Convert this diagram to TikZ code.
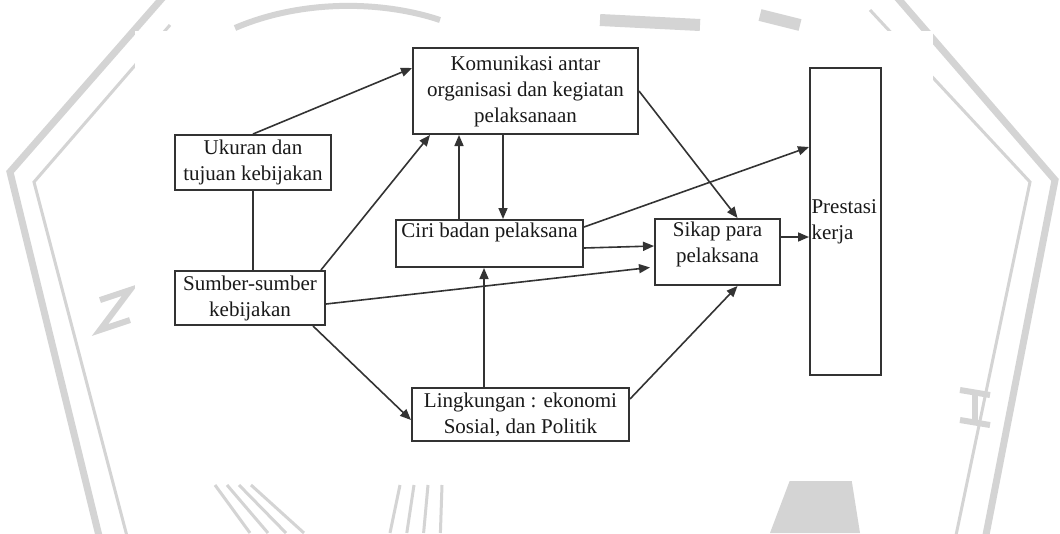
\documentclass[tikz,border=0pt]{standalone}
\usepackage{fontspec}
\setmainfont{Liberation Serif}
\usetikzlibrary{arrows.meta}
\definecolor{wm}{gray}{0.83}
\definecolor{ln}{gray}{0.2}
\tikzset{
  boxnode/.style={draw=ln, line width=2pt, rectangle, inner sep=2pt, align=center,
     font=\fontsize{21}{26}\selectfont, text=black!90},
  conn/.style={draw=ln, line width=1.6pt, -{Triangle[length=11pt,width=9pt]}},
  plain/.style={draw=ln, line width=1.6pt},
  wmline/.style={draw=wm, line width=7pt},
  wmthin/.style={draw=wm, line width=3pt}
}
\begin{document}
\begin{tikzpicture}[x=1pt,y=-1pt]
\useasboundingbox (0,0) rectangle (1060,533);
\fill[white] (0,0) rectangle (1060,533);
% watermark (faint)
\draw[wmline] (165,-5) -- (10,172) -- (100,540);
\draw[wmthin] (170,25) -- (34,182) -- (128,540);
\draw[wmline] (895,-5) -- (1055,180) -- (985,540);
\draw[wmthin] (870,10) -- (1030,182) -- (955,540);
\draw[wm, line width=6pt] (235,28) .. controls (300,0) and (380,0) .. (440,20);
\draw[wm, line width=12pt] (600,20) -- (700,25);
\draw[wm, line width=12pt] (760,15) -- (800,25);
\foreach \a in {0,12,24,36}{\draw[wmthin] (215+\a,485) -- (250+\a*1.5,533);}
\foreach \a in {0,14,28,42}{\draw[wmthin] (400+\a,485) -- (390+\a*1.2,533);}
\fill[wm] (790,480) -- (850,470) -- (860,533) -- (770,533) -- cycle;
\draw[wm, line width=6pt] (100,300) -- (130,290) -- (100,330) -- (130,320);
\draw[wm, line width=6pt] (960,390) -- (990,395);
\draw[wm, line width=6pt] (960,420) -- (990,425);
\draw[wm, line width=6pt] (975,392) -- (975,423);
% white paper
\fill[white] (135,31) rectangle (933,481);
% boxes
\node[boxnode, minimum width=225pt, minimum height=86pt] (kom) at (525.5,91)
  {Komunikasi antar\\organisasi dan kegiatan\\pelaksanaan};
\node[boxnode, minimum width=156pt, minimum height=55pt] (ukur) at (253,162.5)
  {Ukuran dan\\tujuan kebijakan};
\node[boxnode, minimum width=150pt, minimum height=54pt] (sumber) at (250,298)
  {Sumber-sumber\\kebijakan};
\node[boxnode, minimum width=187pt, minimum height=47pt, inner sep=0pt] (ciri) at (489.5,243.5)
  {Ciri badan pelaksana\\\mbox{}};
\node[boxnode, minimum width=125pt, minimum height=66pt] (sikap) at (717.5,252)
  {Sikap para\\pelaksana\\[-6pt]\mbox{}};
\node[boxnode, minimum width=217pt, minimum height=53pt] (ling) at (520.5,414.5)
  {Lingkungan : ekonomi\\Sosial, dan Politik};
\node[boxnode, minimum width=71pt, minimum height=307pt, text width=68pt, inner xsep=1.5pt, align=left] (pres) at (845.5,221.5)
  {Prestasi\\kerja};
% connectors
\draw[conn] (ukur.north) -- ([yshift=23pt]kom.west);
\draw[plain] (ukur.south) -- (ukur.south |- sumber.north);
\draw[conn] ([xshift=-5pt]sumber.north east) -- ([xshift=18pt]kom.south west);
\draw[conn] ([xshift=64pt]ciri.north west) -- ([xshift=64pt]ciri.north west |- kom.south);
\draw[conn] ([xshift=108pt]ciri.north west |- kom.south) -- ([xshift=108pt]ciri.north west);
\draw[conn] (kom.east) -- ([xshift=20pt]sikap.north);
\draw[conn] ([yshift=16.5pt]ciri.east) -- ([yshift=74.5pt]pres.west);
\draw[conn] ([yshift=-4.5pt]ciri.east) -- ([yshift=6pt]sikap.west);
\draw[conn, shorten >=4pt] ([yshift=-6pt]sumber.east) -- ([yshift=-15pt]sikap.west);
\draw[conn] ([xshift=73pt]ling.north west) -- ([xshift=73pt]ling.north west |- ciri.south);
\draw[conn] ([xshift=-13pt]sumber.south east) -- ([yshift=-5.5pt]ling.west);
\draw[conn] ([yshift=15.5pt]ling.east) -- ([xshift=20pt]sikap.south);
\draw[conn] ([yshift=15pt]sikap.east) -- ([yshift=15pt]sikap.east -| pres.west);
\end{tikzpicture}
\end{document}
